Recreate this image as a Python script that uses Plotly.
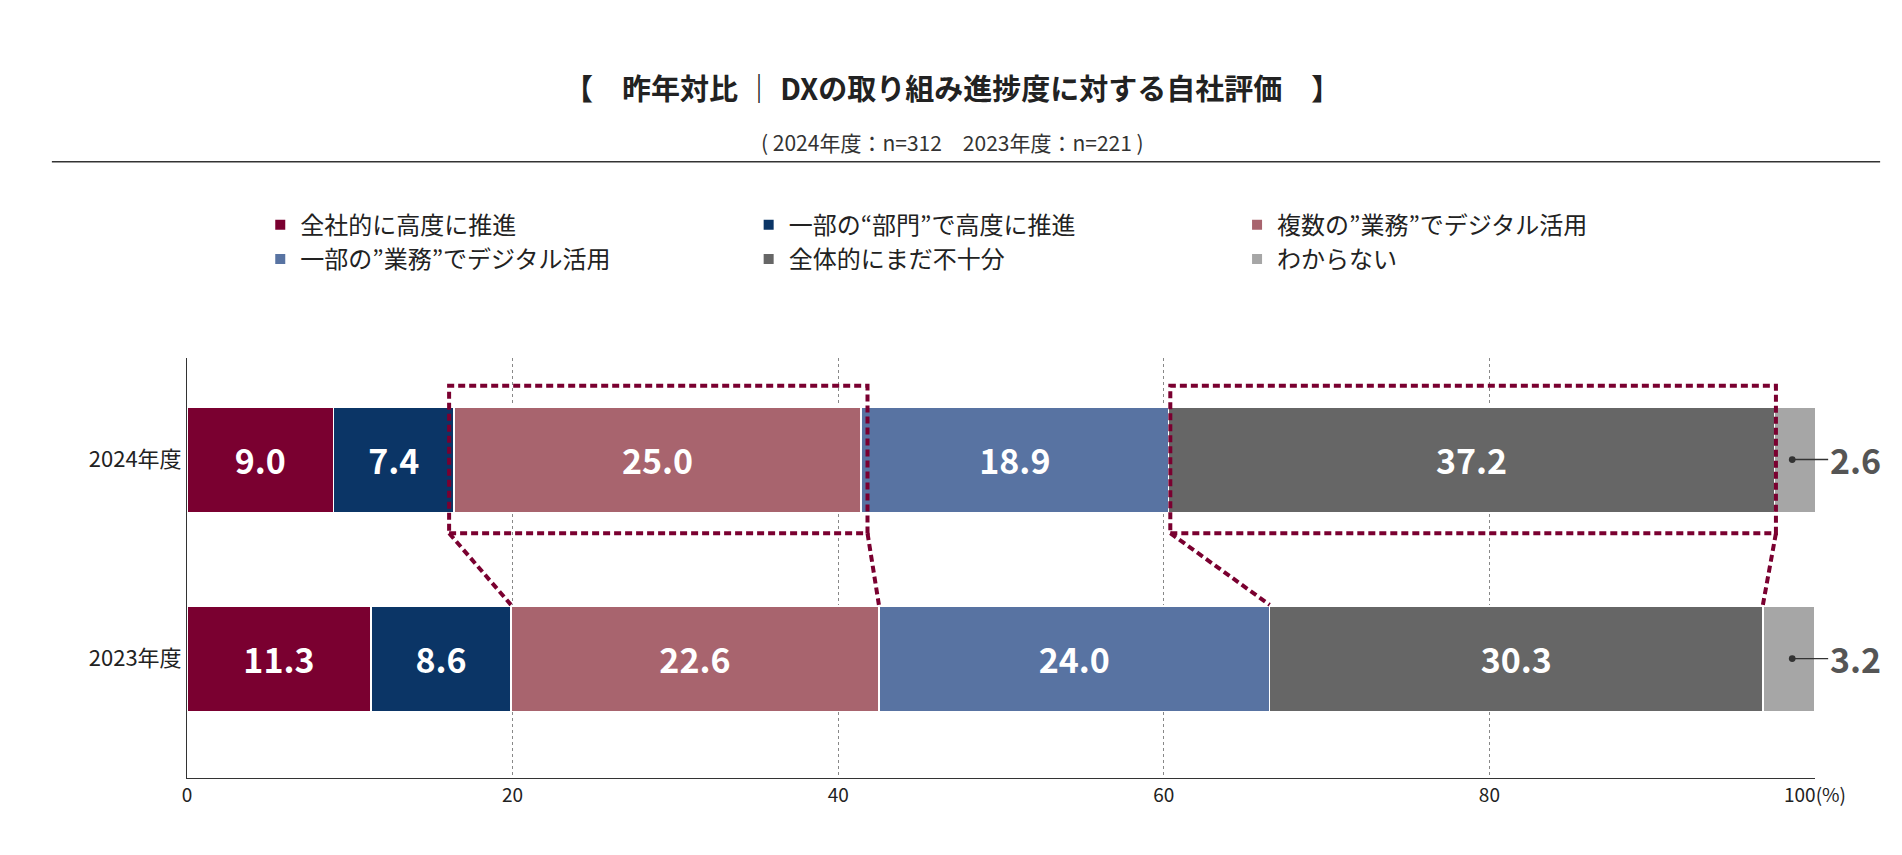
import plotly.graph_objects as go

years = ["2023年度", "2024年度"]
series = ["全社的に高度に推進", "一部の“部門”で高度に推進", "複数の”業務”でデジタル活用",
          "一部の”業務”でデジタル活用", "全体的にまだ不十分", "わからない"]
v2023 = [11.3, 8.6, 22.6, 24.0, 30.3, 3.2]
v2024 = [9.0, 7.4, 25.0, 18.9, 37.2, 2.6]
colors = ["#7a0030", "#0b3566", "#a8646e", "#5873a2", "#666666", "#a6a6a6"]
xticks = [0, 20, 40, 60, 80, 100]
xticklabels = ["0", "20", "40", "60", "80", "100(%)"]

FONT = "Noto Sans CJK JP"
fig = go.Figure()
for i, name in enumerate(series):
    vals = [v2023[i], v2024[i]]
    txt = ["" if i == 5 else f"{v:.1f}" for v in vals]
    fig.add_trace(go.Bar(
        y=[0, 1], x=vals, name=name, orientation="h", width=0.53,
        marker=dict(color=colors[i], line=dict(color="white", width=1.5)),
        text=txt, textposition="inside", insidetextanchor="middle",
        textfont=dict(color="white", size=34, family=FONT, weight="bold"),
        hoverinfo="skip"))

# outside labels for the last segment
for yv, vals in [(0, v2023), (1, v2024)]:
    fig.add_annotation(x=98.6, y=yv, ax=100.9, ay=yv, axref="x", ayref="y",
                       showarrow=True, arrowhead=6, arrowsize=1.3, arrowwidth=1.3,
                       arrowcolor="#333", text="")
    fig.add_annotation(xref="paper", x=1.008, y=yv, text=f"{vals[-1]:.1f}", showarrow=False,
                       xanchor="left",
                       font=dict(size=34, color="#555", family=FONT, weight="bold"))

dash = dict(color="#7a0030", width=4, dash="7px,4px")
for x0, x1, b0, b1 in [(16.1, 41.8, 19.9, 42.5), (60.4, 97.6, 66.5, 96.8)]:
    fig.add_shape(type="rect", x0=x0, x1=x1, y0=0.63, y1=1.37, line=dash)
    fig.add_shape(type="line", x0=x0, x1=b0, y0=0.63, y1=0.27, line=dash)
    fig.add_shape(type="line", x0=x1, x1=b1, y0=0.63, y1=0.27, line=dash)

fig.add_shape(type="line", xref="paper", yref="paper", x0=-0.083, x1=1.04, y0=1.467, y1=1.467,
              line=dict(color="#333", width=1.5))
fig.add_annotation(xref="paper", yref="paper", x=0.47, y=1.70, showarrow=False,
                   text="【　昨年対比 ｜ DXの取り組み進捗度に対する自社評価　】",
                   font=dict(size=29, color="#222", family=FONT, weight="bold"))
fig.add_annotation(xref="paper", yref="paper", x=0.47, y=1.555, showarrow=False,
                   text="( 2024年度：n=312　2023年度：n=221 )",
                   font=dict(size=21, color="#333", family=FONT))

fig.update_layout(
    width=1902, height=855, barmode="stack", plot_bgcolor="white", paper_bgcolor="white",
    margin=dict(l=179, r=95, t=350, b=85),
    font=dict(family=FONT, color="#222"),
    legend=dict(orientation="h", x=0.045, xanchor="left", y=1.37, yanchor="top",
                entrywidth=0.3, entrywidthmode="fraction", traceorder="normal",
                itemsizing="constant", tracegroupgap=20,
                font=dict(size=24, family=FONT)),
    xaxis=dict(range=[0, 100], tickvals=xticks, ticktext=xticklabels, showgrid=True,
               gridcolor="#888", griddash="dot", gridwidth=1, showline=True, linecolor="#333",
               zeroline=False, tickfont=dict(size=19), ticks=""),
    yaxis=dict(range=[-0.6, 1.51], tickvals=[0, 1], ticktext=years, showgrid=False,
               showline=True, linecolor="#333", zeroline=False, tickfont=dict(size=22)),
)
fig.write_html("out.html")
